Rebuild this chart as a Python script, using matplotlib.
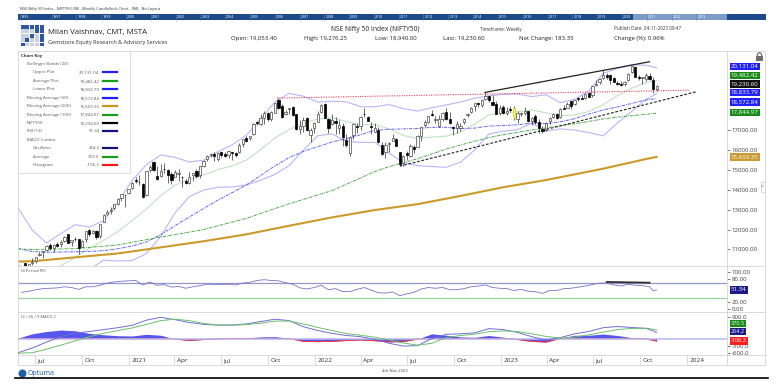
import matplotlib
matplotlib.use('Agg')
import matplotlib.pyplot as plt
import matplotlib.dates as mdates
import matplotlib.transforms as mtransforms
from matplotlib.patches import Rectangle, Ellipse, Arc
from matplotlib.lines import Line2D
from matplotlib.ticker import FormatStrFormatter
import numpy as np
import pandas as pd

plt.rcParams['font.family'] = ['Open Sans', 'DejaVu Sans']

# ---------------- data ----------------
# weekly candles, week ending Friday, first week 2020-06-05
first_week = '2020-06-05'

opens = [
    9726, 10326, 9919, 10311, 10427, 10723, 10851, 10983, 11225, 11057,
    11270, 11248, 11412, 11777, 11355, 11545, 11503, 11140, 11503, 11973,
    11835, 11937, 11697, 12400, 12780, 12906, 13062, 13264, 13564, 13741,
    13815, 14104, 14474, 14371, 14286, 13758, 14983, 15371, 14707, 14702,
    15064, 14996, 14812, 14628, 14798, 14653, 14449, 14326, 14747, 14928,
    14756, 15211, 15520, 15725, 15791, 15525, 15915, 15793, 15724, 15877,
    15839, 15874, 16297, 16600, 16593, 16775, 17400, 17292, 17612, 17855,
    17532, 17867, 18497, 18230, 17784, 18041, 18140, 17796, 17055, 17209,
    17619, 16773, 17086, 17388, 17913, 18309, 17575, 17301, 17456, 17076,
    17192, 16516, 15867, 16757, 17181, 17217, 17810, 17677, 17184, 16896,
    17023, 16227, 15917, 16290, 16439, 16570, 15874, 15335, 15842, 15710,
    16151, 16151, 16719, 17244, 17402, 17797, 17491, 17188, 17546, 17890,
    17540, 17157, 17102, 17094, 17423, 17736, 17910, 18211, 18377, 18246,
    18552, 18719, 18402, 18288, 17830, 18131, 17859, 18033, 18118, 17541,
    17799, 17859, 17965, 17428, 17680, 17422, 17066, 16985, 17428, 17634,
    17807, 17639, 18124, 18120, 18433, 18314, 18600, 18612, 18609, 18849,
    18741, 19246, 19400, 19612, 19748, 19784, 19597, 19380, 19320, 19298,
    19525, 19890, 20156, 19675, 19622, 19540, 19729, 19521, 19053,
]
highs = [
    10177, 10328, 10272, 10553, 10631, 10847, 10934, 11225, 11341, 11256,
    11374, 11460, 11686, 11794, 11493, 11618, 11535, 11465, 11938, 12025,
    11985, 11975, 12280, 12770, 12963, 13145, 13280, 13579, 13773, 13777,
    14050, 14367, 14653, 14753, 14346, 14932, 15257, 15432, 15176, 15273,
    15336, 15052, 14878, 14984, 15045, 14697, 14527, 14891, 14863, 15044,
    15189, 15469, 15733, 15835, 15901, 15915, 15916, 15915, 15962, 15881,
    15899, 16349, 16543, 16702, 16722, 17340, 17437, 17793, 17947, 17912,
    17941, 18350, 18604, 18310, 18012, 18123, 18210, 17806, 17489, 17639,
    17640, 17119, 17400, 17944, 18286, 18351, 17599, 17794, 17640, 17490,
    17352, 16815, 16694, 17344, 17353, 17704, 18115, 17694, 17415, 17377,
    17132, 16404, 16400, 16414, 16793, 16610, 15900, 15749, 15927, 16275,
    16248, 16752, 17172, 17490, 17724, 17992, 17726, 17777, 17925, 18096,
    17919, 17196, 17428, 17348, 17607, 17838, 18176, 18362, 18399, 18534,
    18888, 18731, 18734, 18473, 18265, 18252, 18141, 18183, 18201, 17972,
    17916, 18134, 17972, 17645, 17800, 17530, 17208, 17381, 17638, 17843,
    17864, 18089, 18267, 18389, 18458, 18508, 18662, 18777, 18864, 18887,
    19201, 19523, 19595, 19991, 19867, 19796, 19646, 19465, 19458, 19458,
    19867, 20222, 20196, 19766, 19676, 19850, 19849, 19659, 19276,
]
lows = [
    9706, 9544, 9728, 10194, 10299, 10676, 10562, 10943, 10985, 10882,
    11111, 11144, 11397, 11303, 11185, 11415, 10790, 11112, 11347, 11661,
    11758, 11535, 11557, 12367, 12730, 12790, 12962, 13237, 13447, 13131,
    13790, 14024, 14357, 14222, 13596, 13662, 14900, 14935, 14467, 14635,
    14862, 14350, 14264, 14617, 14459, 14151, 14273, 14291, 14417, 14592,
    14592, 15126, 15451, 15649, 15450, 15450, 15635, 15632, 15578, 15513,
    15632, 15834, 16162, 16395, 16480, 16764, 17255, 17270, 17326, 17452,
    17452, 17864, 18032, 17613, 17760, 17798, 17689, 16985, 16782, 16891,
    16966, 16410, 16833, 17384, 17879, 17580, 16837, 17244, 16810, 16810,
    16203, 16133, 15671, 16556, 16843, 17006, 17636, 17443, 16824, 16888,
    16340, 15735, 15601, 15903, 16438, 16172, 15183, 15191, 15511, 15661,
    15858, 16142, 16438, 17154, 17359, 17710, 17345, 17166, 17429, 17497,
    17291, 16748, 16856, 16950, 17312, 17637, 17850, 17969, 18135, 18133,
    18500, 18410, 18255, 17780, 17774, 17795, 17761, 17900, 17494, 17353,
    17698, 17762, 17421, 17255, 17324, 16850, 16828, 16940, 17313, 17597,
    17554, 17613, 18042, 18117, 18060, 18262, 18464, 18555, 18552, 18647,
    18646, 19235, 19300, 19563, 19563, 19296, 19412, 19253, 19229, 19223,
    19487, 19865, 19657, 19492, 19333, 19480, 19518, 18838, 18940,
]
closes = [
    10142, 9972, 10244, 10383, 10607, 10768, 10901, 11194, 11073, 11214,
    11178, 11372, 11647, 11333, 11464, 11505, 11050, 11417, 11914, 11762,
    11930, 11642, 12264, 12720, 12859, 12969, 13258, 13514, 13761, 13749,
    14018, 14347, 14433, 14372, 13635, 14924, 15163, 14982, 14529, 14938,
    15031, 14744, 14507, 14867, 14834, 14617, 14341, 14631, 14823, 14677,
    15175, 15435, 15670, 15799, 15683, 15860, 15722, 15690, 15923, 15856,
    15763, 16238, 16529, 16450, 16705, 17324, 17369, 17585, 17853, 17532,
    17895, 18338, 18114, 17671, 17916, 18102, 17765, 17026, 17196, 17511,
    16985, 17003, 17354, 17812, 18256, 17617, 17102, 17516, 17375, 17276,
    16659, 16246, 16630, 17287, 17153, 17670, 17784, 17476, 17172, 17102,
    16411, 15782, 16266, 16352, 16584, 16202, 15294, 15699, 15752, 16221,
    16049, 16719, 17158, 17398, 17698, 17758, 17559, 17539, 17833, 17531,
    17327, 17094, 17315, 17186, 17576, 17787, 18117, 18350, 18308, 18513,
    18697, 18497, 18269, 17807, 18105, 17860, 17957, 18028, 17604, 17854,
    17856, 17944, 17466, 17594, 17413, 17100, 16945, 17360, 17599, 17828,
    17624, 18065, 18069, 18315, 18203, 18499, 18534, 18563, 18826, 18665,
    19189, 19332, 19565, 19745, 19646, 19517, 19428, 19310, 19266, 19435,
    19820, 20192, 19674, 19638, 19654, 19751, 19543, 19047, 19231,
]
marked_week = 138   # yellow candle, week of 27 Jan 2023

# indicator lines, sampled at week offsets from first_week
bb_wk = [-1, 3, 7, 11, 15, 19, 23, 27, 31, 35, 39, 43, 47, 51, 55, 59, 63, 67, 71, 75,
         79, 83, 87, 91, 95, 99, 103, 107, 111, 115, 119, 123, 127, 131, 135, 139,
         143, 147, 151, 155, 159, 163, 167, 171, 175, 178]
bb_upper = [13086, 11970, 11325, 11796, 12238, 12129, 12438, 13390, 14468, 15263,
            15742, 15626, 15393, 15485, 15907, 16250, 16738, 17554, 18409, 18843,
            18698, 18397, 18447, 18419, 18168, 18168, 18277, 18073, 17952, 18122,
            18256, 18408, 18599, 18720, 18788, 18809, 18678, 18773, 18372, 18536,
            18972, 19842, 20094, 20280, 20251, 20131.04]
bb_mid = [10244, 9848, 9703, 10172, 10600, 11057, 11448, 11904, 12456, 13027,
          13700, 14230, 14521, 14733, 15015, 15194, 15486, 16014, 16589, 17029,
          17344, 17553, 17629, 17425, 17272, 17274, 17057, 16721, 16580, 16644,
          16690, 16896, 17299, 17762, 17864, 17913, 18010, 17859, 17714, 17766,
          17924, 18272, 18726, 19106, 19387, 19482.42]
bb_lower = [7402, 7726, 8081, 8548, 8962, 9985, 10458, 10418, 10444, 10791,
            11658, 12834, 13649, 13981, 14123, 14138, 14234, 14474, 14769, 15215,
            15990, 16709, 16811, 16431, 16376, 16380, 15837, 15369, 15208, 15166,
            15124, 15384, 15999, 16804, 16940, 17017, 17342, 16945, 17056, 16996,
            16876, 16702, 17358, 17932, 18523, 18833.79]

ma50_wk = [-1, 3, 7, 15, 19, 23, 27, 31, 35, 39, 43, 47, 51, 55, 59, 63, 67, 71, 75, 79,
           83, 87, 91, 95, 99, 103, 107, 111, 115, 119, 123, 127, 131, 135, 139, 143,
           147, 151, 155, 159, 163, 167, 171, 175, 178]
ma50 = [11050, 10892, 10858, 10881, 10901, 10936, 11033, 11172, 11373, 11739,
        12195, 12627, 13054, 13475, 13851, 14240, 14711, 15198, 15618, 15922,
        16162, 16398, 16564, 16762, 16984, 17038, 17055, 17074, 17134, 17137,
        17075, 17095, 17201, 17221, 17265, 17346, 17320, 17413, 17567, 17799,
        18010, 18156, 18335, 18512, 18572.84]

ma100_wk = [-1, 3, 15, 27, 39, 51, 63, 75, 87, 91, 95, 99, 103, 107, 111, 115, 119, 123,
            127, 131, 135, 139, 143, 147, 151, 155, 159, 163, 167, 171, 175, 178]
ma100 = [11020, 10992, 11039, 11224, 11622, 11995, 12561, 13295, 13954, 14275,
         14589, 14914, 15155, 15358, 15557, 15798, 16041, 16244, 16437, 16618,
         16765, 16883, 17000, 17104, 17214, 17315, 17429, 17558, 17647, 17718,
         17787, 17844.97]

ma200_wk = [-1, 3, 27, 51, 63, 75, 87, 99, 111, 123, 135, 147, 163, 175, 178]
ma200 = [10390, 10406, 10796, 11409, 11757, 12189, 12608, 12978, 13274, 13687,
         14124, 14485, 15056, 15541, 15650.35]

rsi_wk = list(range(0, 177, 2)) + [177, 178]
rsi = [45, 48, 52, 55, 56, 57, 60, 58, 53, 60,
       60, 64, 70, 73, 75, 76, 77, 65, 73, 64,
       66, 59, 61, 56, 60, 63, 67, 66, 66, 67,
       65, 70, 72, 77, 79, 77, 76, 71, 67, 57,
       54, 58, 64, 52, 55, 47, 47, 53, 58, 51,
       44, 43, 46, 36, 41, 45, 54, 58, 56, 58,
       52, 52, 55, 60, 62, 65, 58, 56, 55, 50,
       53, 48, 47, 42, 50, 50, 55, 56, 59, 62,
       66, 70, 70, 65, 62, 67, 64, 63, 60, 49.5, 51.34]

macd_wk = bb_wk
macd_osc = [-600, -400, -150, 80, 230, 300, 380, 460, 560, 780,
            900, 800, 680, 600, 570, 570, 620, 720, 820, 760,
            500, 340, 220, 130, 80, -30, -200, -320, -300, 0,
            180, 200, 240, 420, 380, 260, 80, -60, 40, 200,
            300, 460, 510, 470, 430, 264.2]
macd_avg = [-620, -600, -450, -280, -100, 80, 220, 340, 450, 600,
            760, 820, 760, 640, 580, 566, 590, 650, 740, 740,
            620, 470, 340, 210, 140, 60, -60, -190, -280, -200,
            40, 130, 184, 290, 320, 300, 200, 90, 20, 60,
            160, 270, 380, 430, 440, 370.5]
macd_hist = [20, 200, 300, 360, 330, 220, 160, 120, 110, 180,
             140, -20, -80, -40, -10, 4, 30, 70, 80, 20,
             -120, -130, -120, -80, -60, -90, -140, -130, -20, 200,
             140, 70, 56, 130, 60, -40, -120, -150, 20, 140,
             140, 190, 130, 40, -10, -106.3]

# hand-drawn trendlines (date, price)
red_line = (['2021-10-19', '2024-01-05'], [18604, 19000])
top_line = (['2022-12-01', '2023-10-20'], [18888, 20430])
base_line = (['2022-06-17', '2024-01-20'], [15183, 18925])
rsi_line = ([164, 176], [73, 71])

# chart key
key_rows = [
    ('Bollinger Bands (20)', '', None, 0),
    ('Upper Plot', '20,131.04', '#1e1eff', 1),
    ('Average Plot', '19,482.42', '#17a017', 1),
    ('Lower Plot', '18,833.79', '#1e1eff', 1),
    ('Moving Average (50)', '18,572.84', '#1e1eff', 0),
    ('Moving Average (200)', '15,650.35', '#c8961e', 0),
    ('Moving Average (100)', '17,844.97', '#17a017', 0),
    ('NIFTY50', '19,230.60', '#000000', 0),
    ('RSI (14)', '51.34', '#141480', 0),
    ('MACD Combo', '', None, 0),
    ('Oscillator', '264.2', '#141480', 1),
    ('Average', '370.5', '#17a017', 1),
    ('Histogram', '-106.3', '#ff1a1a', 1),
]

price_tags = [('20,131.04', '#2020ff'), ('19,482.42', '#178a17'), ('19,230.60', '#111111'),
              ('18,833.79', '#2020ff'), ('18,572.84', '#2020ff'), ('17,844.97', '#178a17'),
              ('15,650.35', '#c99a30')]
price_tag_y = [20181, 19749, 19312, 18874, 18407, 17869, 15650]   # label slots
macd_tags = [('370.5', '#178a17'), ('264.2', '#1a1a8a'), ('-106.3', '#ff2020')]
macd_tag_y = [646, 307, -100]

# axis ticks that are not hidden under the value tags
price_ticks = [11000, 12000, 13000, 14000, 15000, 16000, 17000]
rsi_ticks = [0, 20, 80, 100]
macd_ticks = [-600, -300, 900]

month_ticks = ['2020-07-01', '2020-10-01', '2021-01-01', '2021-04-01', '2021-07-01',
               '2021-10-01', '2022-01-01', '2022-04-01', '2022-07-01', '2022-10-01',
               '2023-01-01', '2023-04-01', '2023-07-01', '2023-10-01', '2024-01-01']
month_labels = ['Jul', 'Oct', '2021', 'Apr', 'Jul', 'Oct', '2022', 'Apr', 'Jul', 'Oct',
                '2023', 'Apr', 'Jul', 'Oct', '2024']

# ---------------- helpers ----------------
W, H = 776, 388
t0 = pd.Timestamp(first_week)


def wk(ks):
    return np.array([mdates.date2num(t0 + pd.Timedelta(weeks=float(k))) for k in ks])


def dn(dates):
    return np.array([mdates.date2num(pd.Timestamp(s)) for s in dates])


def fx(x):
    return x / W


def fy(y):
    return 1 - y / H


def panel(x0, y0, x1, y1):
    return fig.add_axes([fx(x0), fy(y1), (x1 - x0) / W, (y1 - y0) / H])


def fline(x0, y0, x1, y1, color='#d4d4d4', lw=0.6, z=1):
    fig.add_artist(Line2D([fx(x0), fx(x1)], [fy(y0), fy(y1)], color=color, lw=lw, zorder=z))


def frect(x0, y0, x1, y1, fc, ec='none', lw=0.0, z=1):
    fig.add_artist(Rectangle((fx(x0), fy(y1)), (x1 - x0) / W, (y1 - y0) / H,
                             fc=fc, ec=ec, lw=lw, zorder=z))


def ftext(x, y, s, size, color='#333333', ha='left', z=3, **kw):
    fig.text(fx(x), fy(y), s, fontsize=size, color=color, ha=ha, va='center', zorder=z, **kw)


def tag(a, y, s, color, size=4.4):
    tr = mtransforms.blended_transform_factory(a.transAxes, a.transData)
    a.text(1.0055, y, s, transform=tr, fontsize=size, color='white', va='center', ha='left',
           clip_on=False, zorder=10,
           bbox=dict(boxstyle='square,pad=0.2', fc=color, ec='none'))


fig = plt.figure(figsize=(W / 100, H / 100), dpi=100)
fig.patch.set_facecolor('white')

ax = panel(18, 51, 727, 266)
ax_rsi = panel(18, 266, 727, 312)
ax_macd = panel(18, 312, 727, 355)
ax_dates = panel(18, 355, 727, 365)

x_left, x_right = dn(['2020-05-29', '2024-03-20'])
for a in (ax, ax_rsi, ax_macd, ax_dates):
    a.set_xlim(x_left, x_right)
    a.set_xticks([])
    a.yaxis.tick_right()
    a.tick_params(axis='y', length=2, width=0.5, pad=1.2, labelsize=4.4,
                  colors='#444444')
    for s in a.spines.values():
        s.set_color('#d4d4d4')
        s.set_linewidth(0.6)

# ---------------- price panel ----------------
ax.set_ylim(10166, 20970)
ax.set_yticks(price_ticks)
ax.yaxis.set_major_formatter(FormatStrFormatter('%.2f'))

ax.plot(wk(bb_wk), bb_upper, color='#b6b6ff', lw=0.8, zorder=1)
ax.plot(wk(bb_wk), bb_lower, color='#b6b6ff', lw=0.8, zorder=1)
ax.plot(wk(bb_wk), bb_mid, color='#bfe4bf', lw=0.8, zorder=1)
ax.plot(wk(ma50_wk), ma50, color='#5c5cff', lw=0.7, ls=(0, (3, 1, 1, 1)), zorder=2)
ax.plot(wk(ma100_wk), ma100, color='#47a847', lw=0.7, ls=(0, (3, 1, 1, 1)), zorder=2)
ax.plot(wk(ma200_wk), ma200, color='#cc9a2a', lw=1.5, zorder=2)

o, h, l, c = (np.array(v, dtype=float) for v in (opens, highs, lows, closes))
xw = wk(range(len(closes)))
up = c >= o
face = np.where(up, 'white', 'black').astype(object)
edge = np.where(up, '#4a4a4a', 'black').astype(object)
face[marked_week] = '#fff27a'
edge[marked_week] = '#e6cc00'
ax.vlines(xw, l, h, color='#303030', lw=0.5, zorder=3)
ax.bar(xw, np.maximum(np.abs(c - o), 15), bottom=np.minimum(o, c), width=4.4,
       color=list(face), edgecolor=list(edge), linewidth=0.5, zorder=4)

ax.plot(dn(red_line[0]), red_line[1], color='#ef3d5c', lw=0.8, ls=(0, (1, 1.2)), zorder=5)
ax.plot(dn(top_line[0]), top_line[1], color='#222222', lw=0.9, zorder=5)
ax.plot(dn(base_line[0]), base_line[1], color='#222222', lw=0.8, ls=(0, (2.5, 1.5)), zorder=5)

for (s, col), yv in zip(price_tags, price_tag_y):
    tag(ax, yv, s, col)

# ---------------- RSI panel ----------------
ax_rsi.set_ylim(-8, 116)
ax_rsi.set_yticks(rsi_ticks)
ax_rsi.yaxis.set_major_formatter(FormatStrFormatter('%.2f'))
ax_rsi.axhline(70, color='#9696c8', lw=0.9, zorder=1)
ax_rsi.axhline(30, color='#9ed49e', lw=0.9, zorder=1)
ax_rsi.plot(wk(rsi_wk), rsi, color='#7373cf', lw=0.6, zorder=2)
ax_rsi.plot(wk(rsi_line[0]), rsi_line[1], color='#333333', lw=1.3, zorder=3)
tag(ax_rsi, rsi[-1], '51.34', '#1a1a8a')

# ---------------- MACD panel ----------------
ax_macd.set_ylim(-697, 1125)
ax_macd.set_yticks(macd_ticks)
ax_macd.yaxis.set_major_formatter(FormatStrFormatter('%.1f'))
xm = wk(macd_wk)
hist = np.array(macd_hist)
ax_macd.fill_between(xm, hist, 0, color='#5656ee', lw=0, zorder=1)
ax_macd.plot(xm, np.minimum(hist, 0), color='#ff3030', lw=0.7, zorder=2)
ax_macd.axhline(0, color='#b8b8f2', lw=1.1, zorder=3)
ax_macd.plot(xm, macd_osc, color='#6e6ed8', lw=0.7, zorder=4)
ax_macd.plot(xm, macd_avg, color='#6cc06c', lw=0.7, zorder=4)
for (s, col), yv in zip(macd_tags, macd_tag_y):
    tag(ax_macd, yv, s, col, size=4.0)

# ---------------- date axis ----------------
ax_dates.set_ylim(0, 1)
ax_dates.set_yticks([])
for dstr, lab in zip(month_ticks, month_labels):
    xd = dn([dstr])[0]
    ax_dates.axvline(xd, color='#d4d4d4', lw=0.6)
    ax_dates.text(xd + 5, 0.45, lab, fontsize=4.6, color='#333333', va='center', ha='left')

# panel labels
ftext(19.5, 270.5, '14 Period RSI', 3.0, '#555555')
ftext(19.5, 316.5, '12 / 26 / 9 MACD-C', 3.0, '#555555')

# right label column frame
fline(765, 51, 765, 365)
for yy in (51, 266, 312, 355, 365):
    fline(727, yy, 765, yy)

# lock icon and side tab
frect(756, 56, 763, 60.5, fc='#6e6e6e', z=4)
fig.add_artist(Arc((fx(759.5), fy(56)), 4.6 / W, 6.5 / H, theta1=0, theta2=180,
                   color='#6e6e6e', lw=0.9, zorder=4))
frect(760.5, 181.5, 765, 191.5, fc='white', ec='#cccccc', lw=0.5, z=4)
ftext(762.7, 186.3, '<', 4, '#666666', ha='center', z=5)

# ---------------- chart key ----------------
frect(18, 51, 130, 173, fc='white', ec='#d8d8d8', lw=0.6, z=6)
ftext(21, 55.7, 'Chart Key', 3.2, '#333333', z=7, fontweight='bold')
for i, (name, val, col, ind) in enumerate(key_rows):
    yy = 64 + i * 8.42
    ftext(27 + 6 * ind, yy, name, 3.2, '#5a5a5a', z=7)
    if val:
        ftext(99.5, yy, val, 3.2, '#5a5a5a', ha='right', z=7)
        fline(103, yy, 117, yy, color=col, lw=1.6, z=7)

# ---------------- header ----------------
ftext(20.5, 9.3, 'NSE Nifty 50 Index - NIFTY50 (IN) - Weekly CandleStick Chart - INR - No Layout',
      2.8, '#333333')
frect(18, 14, 766, 20, fc='#1d4b8a')
frect(633, 14, 727, 20, fc='#7f9cc8')
years = [1995] + list(range(1997, 2024))
for yv in years:
    xx = 20.7 if yv == 1995 else 52.7 + (yv - 1997) * 24.8
    fline(xx - 1.2, 14, xx - 1.2, 20, color='#5d7fae', lw=0.4, z=2)
    ftext(xx, 17, str(yv), 2.6, 'white')

logo = ['11111', '00011', '00101', '01001', '10001']
for r, row in enumerate(logo):
    for k, v in enumerate(row):
        x0 = 20.7 + k * 4.75
        y0 = 25 + r * 4.4
        frect(x0, y0, x0 + 4, y0 + 3.7, fc='#2b57a5' if v == '1' else '#c9d1dd', z=2)

ftext(47.5, 32.7, 'Milan Vaishnav, CMT, MSTA', 5.6, '#222222')
ftext(47.5, 42.7, 'Gemstone Equity Research & Advisory Services', 4.0, '#333333')
ftext(331, 29.3, 'NSE Nifty 50 Index (NIFTY50)', 4.8, '#222222')
ftext(480, 29, 'Timeframe: Weekly', 3.3, '#333333')
ftext(614, 29, 'Publish Date: 04-11-2023 09:47', 3.3, '#333333')
for xx, s in [(231, 'Open: 19,053.40'), (304, 'High: 19,276.25'), (375, 'Low: 18,940.00'),
              (443, 'Last: 19,230.60'), (519, 'Net Change: 183.35'), (614, 'Change (%): 0.96%')]:
    ftext(xx, 38.2, s, 4.3, '#222222')

# ---------------- footer ----------------
fig.add_artist(Ellipse((fx(22.5), fy(373.5)), 8 / W, 8 / H, fc='#1f5fa6', ec='none', zorder=3))
ftext(27.5, 373.5, 'Optuma', 5.0, '#1f5fa6')
ftext(395, 371, '4th Nov 2023', 3.0, '#444444', ha='center')
fline(15, 377.5, 768, 377.5, color='black', lw=1.2, z=3)

fig.savefig('out.png', dpi=100)
